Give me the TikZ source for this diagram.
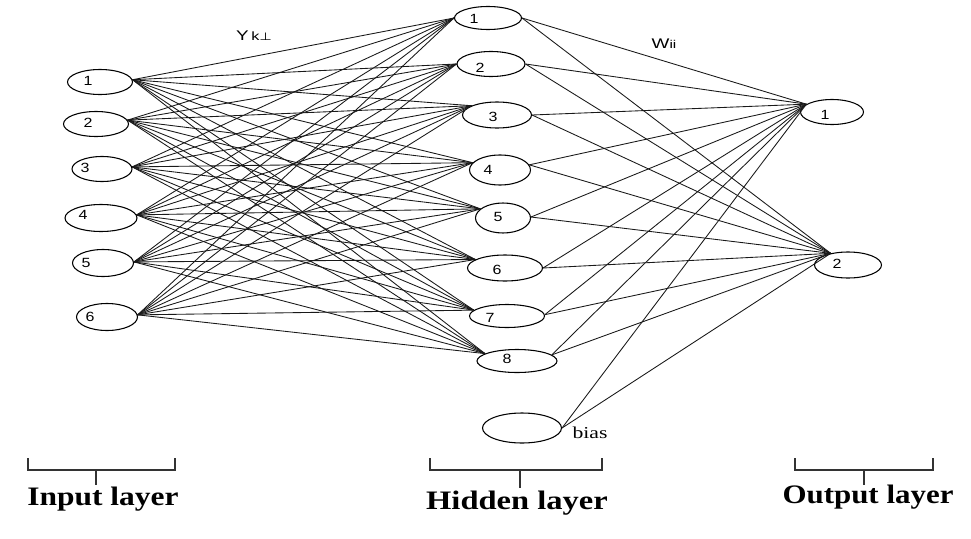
\documentclass[tikz,border=0pt]{standalone}
\usepackage{fontspec}
\setmainfont{Liberation Serif}
\newfontfamily\sansf{Liberation Sans}
\newfontfamily\symf{DejaVu Sans}
\usetikzlibrary{shapes.geometric}

\tikzset{
  neuron/.style 2 args={draw, ellipse, line width=0.8pt, inner sep=0pt,
    minimum width=#1*0.75pt, minimum height=#2*0.75pt},
  num/.style={font=\sansf\fontsize{10}{10}\selectfont, inner sep=0pt},
  wire/.style={line width=0.65pt, black!90},
  weight/.style={inner sep=0pt},
  layerlabel/.style={font=\bfseries\fontsize{20}{20}\selectfont, inner sep=0pt},
  bracket/.style={line width=0.9pt, black!80}
}
\newcommand\widen[2][1.2]{\scalebox{#1}[1]{#2}}

\begin{document}
\begin{tikzpicture}[x=0.75pt,y=-0.75pt]
\useasboundingbox (0,0) rectangle (971,539);

% input layer
\node[neuron={65}{25}] (i1) at (100,82) {};
\node[neuron={65}{25}] (i2) at (96,124) {};
\node[neuron={60}{25}] (i3) at (102,169) {};
\node[neuron={72}{27}] (i4) at (101,218) {};
\node[neuron={61}{27}] (i5) at (103,263) {};
\node[neuron={61}{27}] (i6) at (107,317) {};
\node[num] (i1n) at (88,81) {\widen{1}};
\node[num] (i2n) at (88,123) {\widen{2}};
\node[num] (i3n) at (85,168) {\widen{3}};
\node[num] (i4n) at (83,215) {\widen{4}};
\node[num] (i5n) at (86,263) {\widen{5}};
\node[num] (i6n) at (90,317) {\widen{6}};

% hidden layer
\node[neuron={67}{23}] (h1) at (488,18) {};
\node[neuron={68}{25}] (h2) at (491,64) {};
\node[neuron={69}{26}] (h3) at (497,115) {};
\node[neuron={61}{30}] (h4) at (500,170) {};
\node[neuron={55}{30}] (h5) at (503,218) {};
\node[neuron={75}{26}] (h6) at (505,268) {};
\node[neuron={75}{23}] (h7) at (507,316) {};
\node[neuron={80}{23}] (h8) at (517,361) {};
\node[neuron={79}{30}] (hb) at (522,428) {};
\node[num] (h1n) at (474,19) {\widen{1}};
\node[num] (h2n) at (480,68) {\widen{2}};
\node[num] (h3n) at (493,117) {\widen{3}};
\node[num] (h4n) at (488,170) {\widen{4}};
\node[num] (h5n) at (498,217) {\widen{5}};
\node[num] (h6n) at (497,270) {\widen{6}};
\node[num] (h7n) at (490,318) {\widen{7}};
\node[num] (h8n) at (507,359) {\widen{8}};
\node[inner sep=0pt, font=\fontsize{12.5}{12.5}\selectfont] (bias) at (590,433) {\widen[1.3]{bias}};

% output layer
\node[neuron={63}{25}] (o1) at (832,112) {};
\node[neuron={67}{26}] (o2) at (848,265) {};
\node[num] (o1n) at (825,115) {\widen{1}};
\node[num] (o2n) at (837,264) {\widen{2}};

% input -> hidden
\foreach \a/\aa in {1/4,2/7,3/4,4/5,5/2,6/4}
  \foreach \b/\bb in {1/180,2/180,3/160,4/165,5/158,6/164,7/170,8/167}
    \draw[wire] (i\a.\aa) -- (h\b.\bb);

% hidden and bias -> output
\foreach \b/\bb in {1/0,2/0,3/0,4/10,5/2,6/0,7/2,8/10,b/0} {
  \draw[wire] (h\b.\bb) -- (o1.163);
  \draw[wire] (h\b.\bb) -- (o2.146);
}

% weight labels
\node[weight] (ylab) at (254,36)
  {\widen[1.35]{\sansf\fontsize{10.5}{10.5}\selectfont Y\fontsize{9}{9}\selectfont\,k{\symf\fontsize{8}{8}\selectfont ⊥}}};
\node[weight] (wlab) at (664,44)
  {\widen[1.35]{\sansf\fontsize{10.5}{10.5}\selectfont W\fontsize{8.5}{8.5}\selectfont ii}};

% layer brackets
\draw[bracket] (28,458) -- (28,470) -- (175,470) -- (175,458);
\draw[bracket] (96,470) -- (96,485);
\draw[bracket] (430,458) -- (430,470) -- (602,470) -- (602,458);
\draw[bracket] (520,470) -- (520,488);
\draw[bracket] (795,458) -- (795,470) -- (933,470) -- (933,458);
\draw[bracket] (864,470) -- (864,485);

\node[layerlabel] (inlab) at (103,499) {\widen[1.18]{Input layer}};
\node[layerlabel] (hidlab) at (517,503) {\widen[1.22]{Hidden layer}};
\node[layerlabel] (outlab) at (868,497) {\widen[1.16]{Output layer}};
\end{tikzpicture}
\end{document}
